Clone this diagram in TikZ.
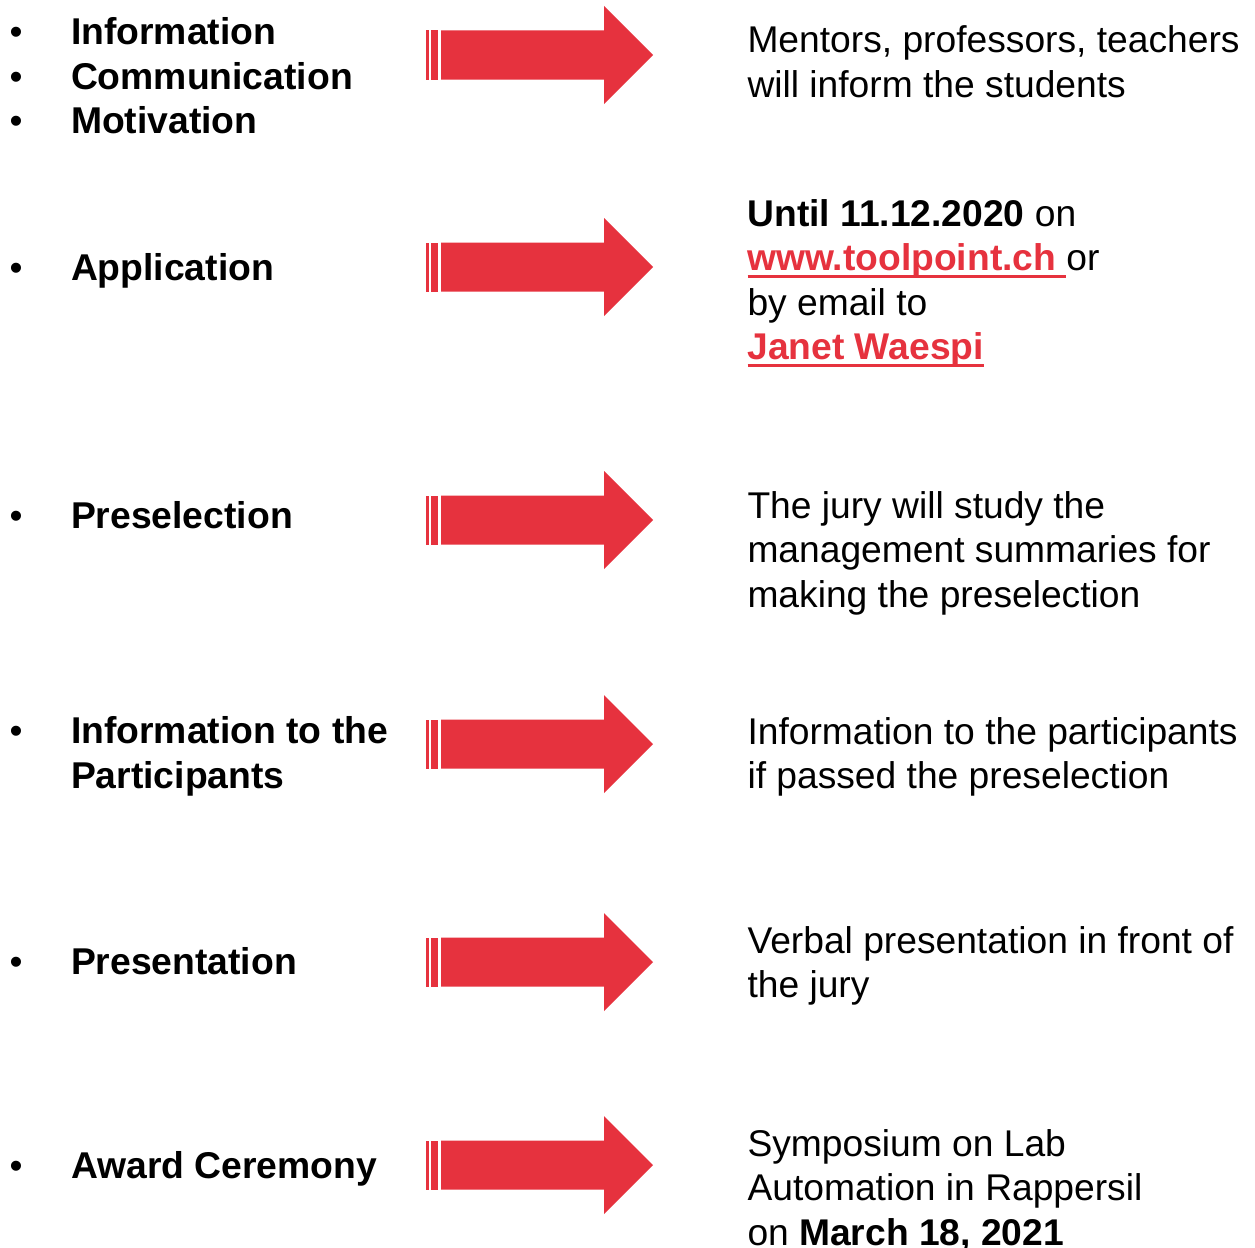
\documentclass[tikz,border=0pt]{standalone}
\usepackage{fontspec}
\setmainfont{Liberation Sans}
\definecolor{tpred}{RGB}{230,50,62}
\newsavebox\lnkbox
\newcommand\redlink[1]{{\color{tpred}\sbox\lnkbox{\bfseries #1}\rlap{\rule[-7.5pt]{\wd\lnkbox}{2.7pt}}\usebox\lnkbox}}
\tikzset{
  x=1pt, y=-1pt,
  txt/.style={inner sep=0pt, outer sep=0pt, anchor=base west, font=\fontsize{37.2}{44.5}\selectfont},
  lbl/.style={txt, font=\fontsize{37.3}{44.5}\selectfont\bfseries},
  bul/.style={inner sep=0pt, outer sep=0pt, anchor=base, font=\fontsize{37}{44.5}\selectfont},
  arr/.pic={
    \fill[tpred] (426,-24.5) rectangle (428.5,24.5);
    \fill[tpred] (431,-24.5) rectangle (438,24.5);
    \fill[tpred] (441,-24.5) -- (604,-24.5) -- (604,-49) -- (653,0) -- (604,49) -- (604,24.5) -- (441,24.5) -- cycle;
  }
}
\begin{document}
\begin{tikzpicture}
\useasboundingbox[fill=white] (0,0) rectangle (1255,1247);
% arrows
\pic at (0,55) {arr};
\pic at (0,267) {arr};
\pic at (0,520) {arr};
\pic at (0,744) {arr};
\pic at (0,962) {arr};
\pic at (0,1165) {arr};
% bullets
\node[bul] (b1) at (16,44.5) {•};
\node[bul] (b2) at (16,89) {•};
\node[bul] (b3) at (16,133.5) {•};
\node[bul] (b4) at (16,280) {•};
\node[bul] (b5) at (16,528) {•};
\node[bul] (b6) at (16,743.5) {•};
\node[bul] (b7) at (16,974) {•};
\node[bul] (b8) at (16,1178) {•};
% left labels
\node[lbl] (l1) at (71,44.5) {Information};
\node[lbl] (l2) at (71,89) {Communication};
\node[lbl] (l3) at (71,133.5) {Motivation};
\node[lbl] (l4) at (71,280) {Application};
\node[lbl] (l5) at (71,528) {Preselection};
\node[lbl] (l6a) at (71,743.5) {Information to the};
\node[lbl] (l6b) at (71,788) {Participants};
\node[lbl] (l7) at (71,974) {Presentation};
\node[lbl] (l8) at (71,1178) {Award Ceremony};
% right texts
\node[txt] (r1a) at (747.5,52.5) {Mentors, professors, teachers};
\node[txt] (r1b) at (747.5,97) {will inform the students};
\node[txt] (r2a) at (747.5,226) {\textbf{Until 11.12.2020} on};
\node[txt] (r2b) at (747.5,270.5) {\redlink{www.toolpoint.ch\ }or};
\node[txt] (r2c) at (747.5,315) {by email to};
\node[txt] (r2d) at (747.5,359.5) {\redlink{Janet Waespi}};
\node[txt] (r3a) at (747.5,518) {The jury will study the};
\node[txt] (r3b) at (747.5,562.5) {management summaries for};
\node[txt] (r3c) at (747.5,607) {making the preselection};
\node[txt] (r4a) at (747.5,744) {Information to the participants};
\node[txt] (r4b) at (747.5,788.5) {if passed the preselection};
\node[txt] (r5a) at (747.5,953) {Verbal presentation in front of};
\node[txt] (r5b) at (747.5,997.5) {the jury};
\node[txt] (r6a) at (747.5,1156) {Symposium on Lab};
\node[txt] (r6b) at (747.5,1200.5) {Automation in Rappersil};
\node[txt] (r6c) at (747.5,1245) {on \textbf{March 18, 2021}};
\end{tikzpicture}
\end{document}
